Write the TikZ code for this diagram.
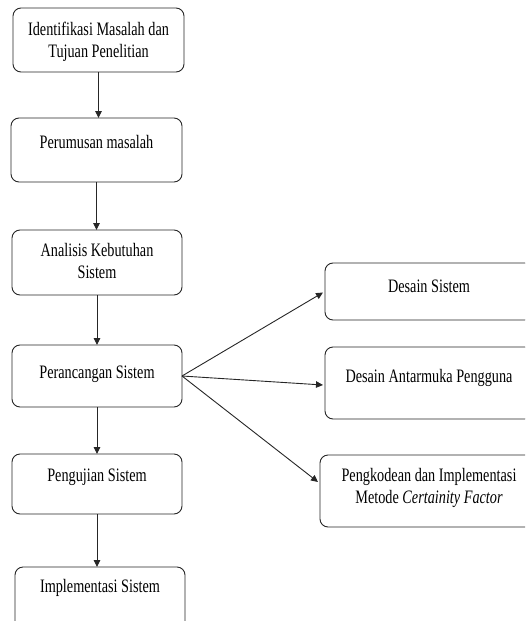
\documentclass[tikz,border=0pt]{standalone}
\usepackage{fontspec}
\setmainfont[FakeStretch=0.75]{Liberation Serif}
\usetikzlibrary{arrows.meta}
\begin{document}
\begin{tikzpicture}[x=1pt,y=-1pt,
  box/.style={draw=black!85, rounded corners=8pt, line width=0.9pt, inner sep=0pt, outer sep=0pt},
  lbl/.style={font=\fontsize{19}{22}\selectfont, align=center, inner sep=0pt, anchor=base},
  arr/.style={-{Triangle[length=7pt,width=6.5pt]}, line width=0.9pt, draw=black!85}]
\useasboundingbox (0,0) rectangle (525,621);
\clip (0,0) rectangle (525,621);
% boxes
\node[box, anchor=north west, minimum width=171pt, minimum height=64pt] (b1) at (13,8) {};
\node[box, anchor=north west, minimum width=171pt, minimum height=64pt] (b2) at (11,118) {};
\node[box, anchor=north west, minimum width=170pt, minimum height=65pt] (b3) at (12,230) {};
\node[box, anchor=north west, minimum width=170pt, minimum height=62pt] (b4) at (12,345) {};
\node[box, anchor=north west, minimum width=170pt, minimum height=60pt] (b5) at (12,454) {};
\node[box, anchor=north west, minimum width=170pt, minimum height=70pt] (b6) at (15,567) {};
\node[box, anchor=north west, minimum width=208pt, minimum height=57pt] (ra) at (325,263) {};
\node[box, anchor=north west, minimum width=208pt, minimum height=72pt] (rb) at (325,347) {};
\node[box, anchor=north west, minimum width=218pt, minimum height=72pt] (rc) at (320,455) {};
% labels (base = baseline of last line)
\node[lbl] (t1) at (98.5,57) {Identifikasi Masalah dan\\Tujuan Penelitian};
\node[lbl] (t2) at (96.5,148) {Perumusan masalah};
\node[lbl] (t3) at (97,278) {Analisis Kebutuhan\\Sistem};
\node[lbl] (t4) at (97,378) {Perancangan Sistem};
\node[lbl] (t5) at (97,481) {Pengujian Sistem};
\node[lbl] (t6) at (100,592) {Implementasi Sistem};
\node[lbl] (ta) at (429,292) {Desain Sistem};
\node[lbl] (tb) at (429,382) {Desain Antarmuka Pengguna};
\node[lbl] (tc) at (429,503) {Pengkodean dan Implementasi\\Metode \textit{Certainity Factor}};
% connectors
\draw[arr] (b1.south) -- (b1.south |- b2.north);
\draw[arr] (b2.south) -- (b2.south |- b3.north);
\draw[arr] (b3.south) -- (b3.south |- b4.north);
\draw[arr] (b4.south) -- (b4.south |- b5.north);
\draw[arr] (b5.south) -- (b5.south |- b6.north);
\draw[arr] (b4.east) -- ([xshift=-2pt,yshift=-1pt]ra.west);
\draw[arr] (b4.east) -- ([xshift=-2pt,yshift=-2pt]rb.west);
\draw[arr] (b4.east) -- ([xshift=-2pt,yshift=9pt]rc.west);
\end{tikzpicture}
\end{document}
